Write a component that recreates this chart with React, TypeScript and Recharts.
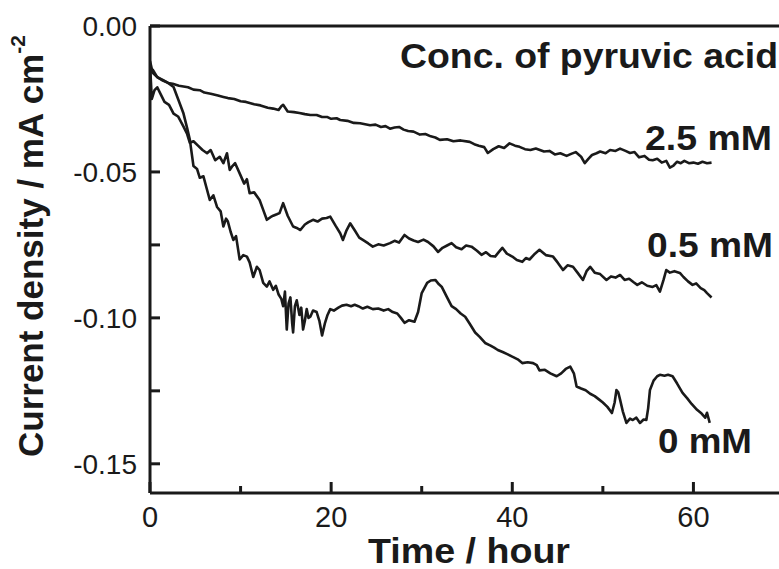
import { LineChart, Line, XAxis, YAxis, ReferenceLine } from 'recharts';

// [time (h), current density (mA cm^-2)] pairs
const curve25: [number, number][] = [
  [0, -0.012], [0.3, -0.016], [0.8, -0.0175], [1.3, -0.0185], [2, -0.0195], [2.5, -0.0198], [3.2, -0.0205], [4.2, -0.021],
  [4.8, -0.0218], [5.5, -0.022], [6, -0.0228], [6.7, -0.0232], [7.5, -0.0238], [8.1, -0.0243], [8.6, -0.0247], [9.3, -0.025],
  [10, -0.0258], [10.6, -0.026], [11.5, -0.0268], [12.2, -0.0272], [13, -0.028], [13.6, -0.0283], [14.2, -0.0288], [14.5, -0.0275],
  [14.7, -0.027], [15.2, -0.0293], [15.9, -0.0295], [16.5, -0.0298], [17.1, -0.0302], [17.7, -0.0305], [18.4, -0.0305], [19, -0.0312],
  [19.6, -0.0312], [20, -0.0318], [20.6, -0.0316], [21, -0.0322], [21.8, -0.0325], [22.5, -0.0332], [23.2, -0.0333], [24.3, -0.034],
  [24.9, -0.0338], [25.5, -0.0346], [26, -0.0343], [26.5, -0.0352], [27, -0.0348], [27.5, -0.0346], [28, -0.0355], [28.5, -0.036],
  [29.1, -0.0362], [29.8, -0.0372], [30.4, -0.037], [31, -0.0378], [31.5, -0.0382], [32, -0.039], [32.8, -0.0388], [33.5, -0.0395],
  [34.3, -0.0392], [35.3, -0.0397], [35.8, -0.0405], [36.3, -0.041], [36.9, -0.0415], [37.3, -0.0435], [37.9, -0.0422], [38.5, -0.0412],
  [39.1, -0.0418], [39.7, -0.0402], [40.3, -0.041], [40.8, -0.0414], [41.4, -0.0422], [42, -0.0425], [42.6, -0.042], [43.5, -0.043],
  [44.1, -0.0428], [44.7, -0.044], [45.3, -0.0436], [46, -0.0445], [46.5, -0.0438], [47, -0.0432], [47.6, -0.0448], [48, -0.047],
  [48.4, -0.0455], [48.8, -0.0442], [49.3, -0.0436], [49.7, -0.043], [50.3, -0.0436], [50.8, -0.0425], [51.4, -0.0428], [51.9, -0.042],
  [52.5, -0.0428], [53, -0.0435], [53.5, -0.0432], [54, -0.045], [54.6, -0.0445], [55.1, -0.0458], [55.5, -0.046], [56, -0.0455],
  [56.5, -0.0468], [57, -0.0462], [57.4, -0.0485], [57.8, -0.0478], [58.2, -0.0465], [58.6, -0.047], [59, -0.0462], [59.5, -0.047],
  [60, -0.0468], [60.5, -0.0472], [61, -0.0465], [61.5, -0.047], [62, -0.0468],
];

const curve05: [number, number][] = [
  [0, -0.013], [0.2, -0.025], [0.5, -0.022], [0.8, -0.021], [1.2, -0.0235], [1.6, -0.026], [2.1, -0.027], [2.6, -0.03],
  [3.1, -0.031], [3.7, -0.0345], [4.1, -0.037], [4.4, -0.04], [4.8, -0.0395], [5.3, -0.041], [5.8, -0.0425], [6.3, -0.0436],
  [6.7, -0.0425], [7.2, -0.046], [7.7, -0.0448], [8.1, -0.047], [8.5, -0.0436], [8.8, -0.0493], [9.1, -0.048], [9.4, -0.047],
  [9.9, -0.0505], [10.4, -0.054], [10.7, -0.0525], [11, -0.0573], [11.5, -0.057], [12.1, -0.0596], [12.5, -0.063], [12.9, -0.0664],
  [13.3, -0.0655], [13.6, -0.065], [14, -0.0645], [14.3, -0.0641], [14.7, -0.0607], [15.2, -0.065], [15.8, -0.0687], [16.2, -0.0692],
  [16.6, -0.0699], [17.1, -0.068], [17.5, -0.0672], [18, -0.0664], [18.5, -0.067], [19, -0.066], [19.5, -0.0658], [19.9, -0.0653],
  [20.5, -0.0685], [21, -0.071], [21.3, -0.0733], [21.7, -0.07], [22.1, -0.0676], [22.6, -0.07], [23.1, -0.0725], [23.5, -0.0733],
  [24.1, -0.0745], [24.6, -0.0756], [25.2, -0.0748], [25.8, -0.0752], [26.5, -0.0744], [27, -0.0736], [27.5, -0.0742], [28.1, -0.0716],
  [28.6, -0.0728], [29.1, -0.0735], [29.6, -0.074], [30.2, -0.0732], [30.7, -0.074], [31.3, -0.0755], [31.8, -0.0774], [32.3, -0.076],
  [32.8, -0.0752], [33.3, -0.0744], [33.8, -0.0758], [34.4, -0.0765], [34.9, -0.0752], [35.5, -0.0756], [36.1, -0.077], [36.6, -0.0784],
  [37.1, -0.0775], [37.6, -0.0788], [38.1, -0.079], [38.5, -0.0775], [38.9, -0.076], [39.4, -0.078], [40, -0.079], [40.5, -0.0802],
  [41.1, -0.0808], [41.5, -0.0795], [41.9, -0.08], [42.5, -0.078], [43, -0.0767], [43.7, -0.0785], [44.5, -0.079], [45, -0.081],
  [45.6, -0.0836], [46.1, -0.082], [46.7, -0.0825], [47.2, -0.0845], [47.8, -0.087], [48.2, -0.084], [48.6, -0.0825], [49.1, -0.0845],
  [49.7, -0.085], [50.4, -0.087], [50.9, -0.0858], [51.4, -0.0862], [51.9, -0.0853], [52.4, -0.087], [52.9, -0.0866], [53.4, -0.0878],
  [53.8, -0.0887], [54.3, -0.0878], [54.9, -0.089], [55.5, -0.0894], [55.9, -0.0888], [56.3, -0.091], [56.7, -0.087], [57, -0.0836],
  [57.4, -0.0845], [57.9, -0.084], [58.5, -0.0846], [58.9, -0.086], [59.4, -0.0875], [59.9, -0.0887], [60.3, -0.0882], [60.8, -0.0898],
  [61.2, -0.0905], [61.5, -0.0915], [62, -0.093],
];

const curve00: [number, number][] = [
  [0, -0.016], [0.3, -0.015], [0.8, -0.0175], [1.4, -0.0185], [2, -0.0195], [2.6, -0.0209], [3.1, -0.025], [3.7, -0.03],
  [4.1, -0.035], [4.4, -0.039], [4.8, -0.048], [5.2, -0.049], [5.5, -0.052], [5.9, -0.0515], [6.2, -0.055], [6.6, -0.0596],
  [7, -0.058], [7.4, -0.062], [7.8, -0.0635], [8.1, -0.0687], [8.4, -0.066], [8.6, -0.067], [8.9, -0.0705], [9.2, -0.0733],
  [9.5, -0.072], [9.9, -0.08], [10.3, -0.0785], [10.7, -0.079], [11, -0.081], [11.4, -0.086], [11.8, -0.0825], [12.1, -0.0836],
  [12.5, -0.088], [12.9, -0.0893], [13.2, -0.0875], [13.6, -0.0904], [13.9, -0.089], [14.2, -0.092], [14.5, -0.0935], [14.7, -0.096],
  [14.9, -0.091], [15.1, -0.104], [15.3, -0.095], [15.5, -0.093], [15.7, -0.102], [15.8, -0.105], [16, -0.096], [16.2, -0.094],
  [16.5, -0.099], [16.7, -0.0965], [16.9, -0.104], [17.1, -0.101], [17.3, -0.097], [17.5, -0.1], [17.7, -0.0996], [18, -0.0975],
  [18.4, -0.098], [18.7, -0.101], [19, -0.106], [19.3, -0.102], [19.6, -0.099], [19.9, -0.097], [20.3, -0.0975], [20.8, -0.0965],
  [21.2, -0.0958], [21.7, -0.0955], [22.2, -0.096], [22.6, -0.0955], [23, -0.096], [23.5, -0.0968], [24, -0.0962], [24.6, -0.097],
  [25.2, -0.0968], [25.8, -0.0975], [26.3, -0.097], [26.8, -0.098], [27.3, -0.0985], [27.7, -0.1], [28.1, -0.1017], [28.6, -0.1008],
  [29.2, -0.1013], [29.6, -0.098], [30, -0.0915], [30.6, -0.088], [31, -0.0872], [31.5, -0.087], [31.9, -0.0885], [32.2, -0.0893],
  [32.8, -0.093], [33.3, -0.096], [33.8, -0.097], [34.3, -0.0985], [34.8, -0.0996], [35.3, -0.102], [35.9, -0.105], [36.4, -0.1065],
  [37, -0.1086], [37.6, -0.1095], [38, -0.1102], [38.4, -0.111], [39, -0.1118], [39.5, -0.1125], [40, -0.1133], [40.6, -0.1142],
  [41.1, -0.1155], [41.7, -0.1152], [42.3, -0.1155], [42.7, -0.1162], [43, -0.118], [43.6, -0.1178], [44.2, -0.119], [44.9, -0.12],
  [45.4, -0.119], [45.9, -0.1175], [46.4, -0.1167], [46.8, -0.119], [47.1, -0.1235], [47.6, -0.1242], [48.1, -0.1248], [48.6, -0.126],
  [49.1, -0.1268], [49.6, -0.128], [50, -0.129], [50.5, -0.1305], [51, -0.1326], [51.3, -0.129], [51.5, -0.1247], [51.7, -0.1255],
  [51.9, -0.128], [52.2, -0.132], [52.6, -0.136], [53, -0.1345], [53.3, -0.135], [53.7, -0.1342], [54.1, -0.136], [54.5, -0.1348],
  [54.8, -0.135], [55, -0.131], [55.2, -0.1247], [55.6, -0.1215], [56, -0.12], [56.3, -0.1195], [56.8, -0.1198], [57.2, -0.1195],
  [57.7, -0.12], [58.2, -0.1225], [58.8, -0.1257], [59.3, -0.1275], [59.8, -0.1295], [60.4, -0.1315], [60.9, -0.1328], [61.3, -0.1342],
  [61.5, -0.1325], [61.8, -0.136],
];

const xTicks = [0, 10, 20, 30, 40, 50, 60];
const xLabeled = [0, 20, 40, 60];
const yTicks = [0, -0.05, -0.075, -0.1, -0.125, -0.15];
const yLabeled = [0, -0.05, -0.1, -0.15];

const FONT = '"Liberation Sans", Arial, Helvetica, sans-serif';
const INK = '#1a1a1a';

const toRows = (pts: [number, number][]) => pts.map(([t, v]) => ({ t, v }));
const series = [
  { name: '2.5 mM', data: toRows(curve25) },
  { name: '0.5 mM', data: toRows(curve05) },
  { name: '0 mM', data: toRows(curve00) },
];

const isIn = (list: number[], v: number) => list.some((l) => Math.abs(l - v) < 1e-9);

function XTick(props: any) {
  const { x, y, payload } = props;
  const major = isIn(xLabeled, payload.value);
  return (
    <g>
      <line x1={x} x2={x} y1={y} y2={y - (major ? 11 : 7)} stroke={INK} strokeWidth={3} />
      {major && (
        <text x={x} y={y + 34} textAnchor="middle" fontSize={29} fontFamily={FONT} fill={INK}>
          {payload.value}
        </text>
      )}
    </g>
  );
}

function YTick(props: any) {
  const { x, y, payload } = props;
  const labeled = isIn(yLabeled, payload.value);
  return (
    <g>
      <line x1={x} x2={x + 10} y1={y} y2={y} stroke={INK} strokeWidth={3} />
      {labeled && (
        <text x={x - 13} y={y + 10} textAnchor="end" fontSize={28} fontFamily={FONT} fill={INK}>
          {Math.abs(payload.value) < 1e-9 ? '0.00' : payload.value.toFixed(2)}
        </text>
      )}
    </g>
  );
}

export default function App() {
  return (
    <div style={{ position: 'absolute', left: 0, top: 0, width: 779, height: 569, overflow: 'hidden', background: '#fff' }}>
      <LineChart width={790} height={569} margin={{ top: 26, right: 6, bottom: 0, left: 90 }}>
        <XAxis
          type="number"
          dataKey="t"
          domain={[0, 70]}
          ticks={xTicks}
          allowDataOverflow
          height={76}
          tickSize={0}
          tickMargin={0}
          tickLine={false}
          axisLine={{ stroke: INK, strokeWidth: 3 }}
          tick={<XTick />}
        />
        <YAxis
          type="number"
          domain={[-0.16, 0]}
          ticks={yTicks}
          allowDataOverflow
          width={60}
          tickSize={0}
          tickMargin={0}
          tickLine={false}
          axisLine={{ stroke: INK, strokeWidth: 3 }}
          tick={<YTick />}
        />
        <ReferenceLine y={0} stroke={INK} strokeWidth={3} />
        {series.map((s) => (
          <Line
            key={s.name}
            data={s.data}
            dataKey="v"
            type="linear"
            stroke={INK}
            strokeWidth={2.6}
            strokeLinejoin="round"
            dot={false}
            isAnimationActive={false}
          />
        ))}
      </LineChart>
      <svg width={779} height={569} style={{ position: 'absolute', left: 0, top: 0, pointerEvents: 'none' }}>
        <g fontFamily={FONT} fontWeight="bold" fill={INK}>
          <text x={400} y={68} fontSize={35} textLength={378} lengthAdjust="spacingAndGlyphs">
            Conc. of pyruvic acid
          </text>
          <text x={645} y={150} fontSize={35} textLength={127} lengthAdjust="spacingAndGlyphs">
            2.5 mM
          </text>
          <text x={647} y={257} fontSize={35} textLength={126} lengthAdjust="spacingAndGlyphs">
            0.5 mM
          </text>
          <text x={658} y={453} fontSize={35} textLength={94} lengthAdjust="spacingAndGlyphs">
            0 mM
          </text>
          <text x={368} y={563} fontSize={35} textLength={202} lengthAdjust="spacingAndGlyphs">
            Time / hour
          </text>
          <text transform="translate(43,457) rotate(-90)" fontSize={35}>
            Current density / mA cm
            <tspan dy={-18} fontSize={21}>-2</tspan>
          </text>
        </g>
      </svg>
    </div>
  );
}
